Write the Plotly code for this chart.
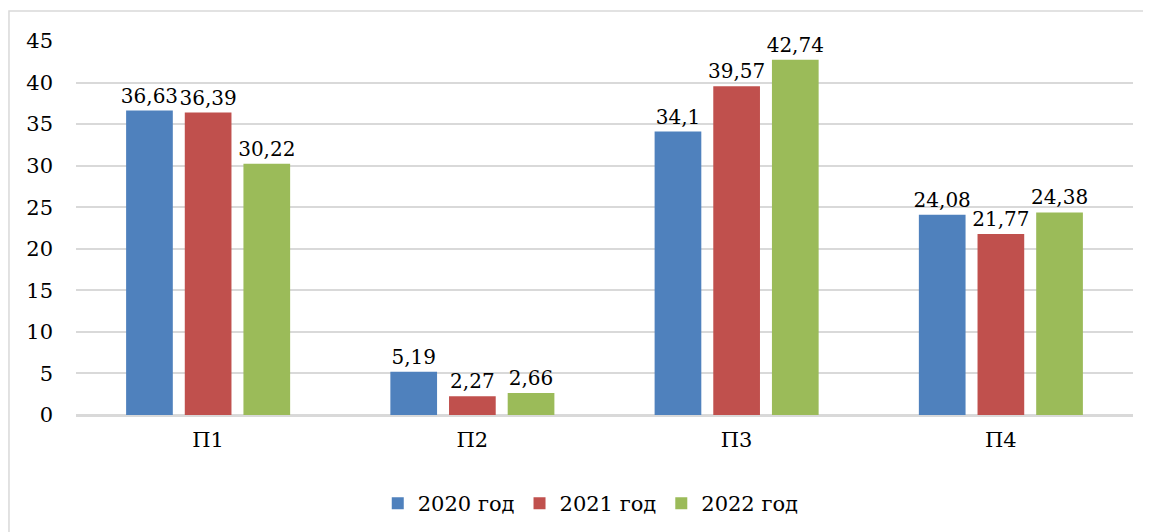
import plotly.graph_objects as go

categories = ["П1", "П2", "П3", "П4"]
series_names = ["2020 год", "2021 год", "2022 год"]
v2020 = [36.63, 5.19, 34.1, 24.08]
v2021 = [36.39, 2.27, 39.57, 21.77]
v2022 = [30.22, 2.66, 42.74, 24.38]
y_ticks = [0, 5, 10, 15, 20, 25, 30, 35, 40, 45]

colors = ["#4F81BD", "#C0504D", "#9BBB59"]
FONT = "DejaVu Serif"
FS = 21
FS_LBL = 20

def fmt(v):
    return str(v).replace(".", ",")

fig = go.Figure()
for name, vals, col in zip(series_names, [v2020, v2021, v2022], colors):
    fig.add_trace(go.Bar(
        x=categories, y=vals, name=name, marker_color=col,
        marker_line_width=0,
        text=[fmt(v) for v in vals], textposition="outside",
        textfont=dict(family=FONT, size=FS_LBL, color="#000"),
        constraintext="none", cliponaxis=False,
    ))

fig.update_layout(
    width=1143, height=524,
    margin=dict(l=68, r=18, t=33, b=117, autoexpand=False),
    plot_bgcolor="white", paper_bgcolor="white",
    barmode="group", bargap=0.334, bargroupgap=0.204,
    font=dict(family=FONT, size=FS, color="#000"),
    showlegend=True,
    legend=dict(orientation="h", x=0.487, xanchor="center", y=-0.237, yanchor="middle",
                font=dict(family=FONT, size=FS, color="#000"), itemwidth=30),
    xaxis=dict(showgrid=False, showline=False, ticks="", ticklabelstandoff=10,
               tickfont=dict(family=FONT, size=FS, color="#000")),
    yaxis=dict(range=[0, 45], tickvals=y_ticks, showgrid=True, gridcolor="#d9d9d9",
               gridwidth=1.5, zeroline=True, zerolinecolor="#d9d9d9", zerolinewidth=2.5,
               showline=False, ticks="", ticklabelstandoff=22,
               tickfont=dict(family=FONT, size=FS, color="#000")),
    shapes=[dict(type="rect", xref="paper", yref="paper",
                 x0=-0.0634, x1=1.2, y0=1.0803, y1=-0.6,
                 line=dict(color="#d9d9d9", width=1.5), layer="below")],
)

fig.write_html("out.html")
